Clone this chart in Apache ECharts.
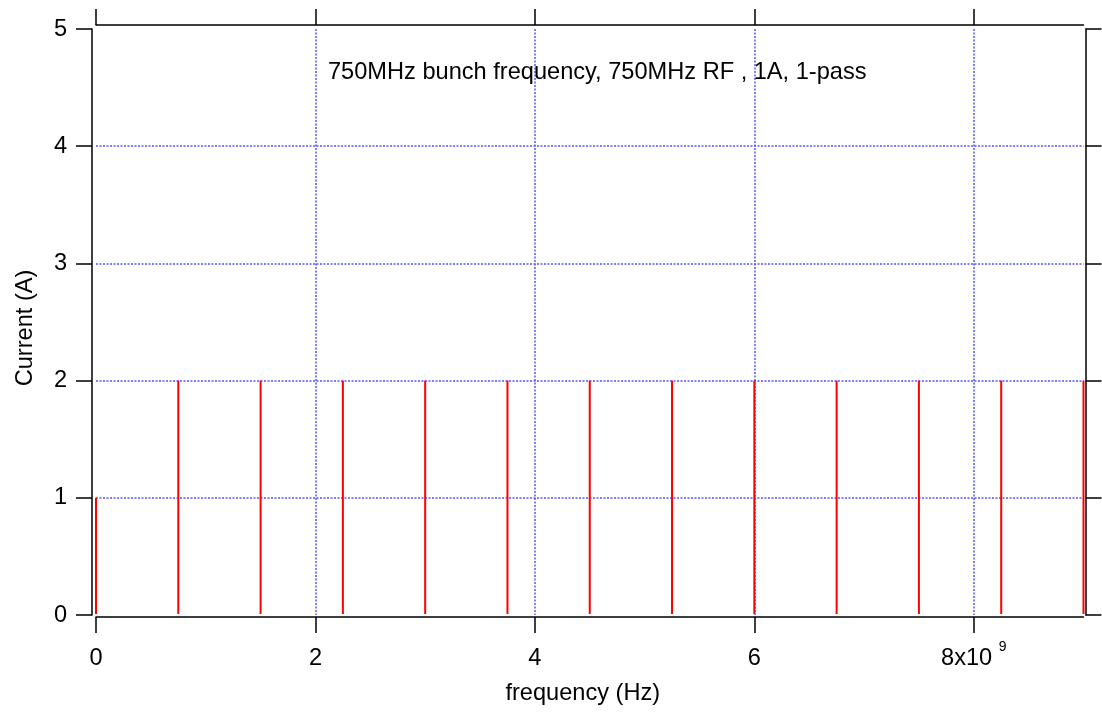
<!DOCTYPE html>
<html>
<head>
<meta charset="utf-8">
<script src="https://cdn.jsdelivr.net/npm/echarts@6/dist/echarts.min.js"></script>
<style>
  html, body { margin: 0; padding: 0; background: #ffffff; }
  #chart { width: 1102px; height: 715px; }
</style>
</head>
<body>
<div id="chart"></div>
<script>
// ---- data ----
const frequencies = [0, 0.75e9, 1.5e9, 2.25e9, 3.0e9, 3.75e9, 4.5e9, 5.25e9, 6.0e9, 6.75e9, 7.5e9, 8.25e9, 9.0e9];
const currents    = [1, 2, 2, 2, 2, 2, 2, 2, 2, 2, 2, 2, 2];
const xTickValues = [0, 2e9, 4e9, 6e9, 8e9];
const xTickLabels = ['0', '2', '4', '6', '8x10'];
const xExponent   = '9';
const yTickValues = [0, 1, 2, 3, 4, 5];
const yTickLabels = ['0', '1', '2', '3', '4', '5'];
const titleText   = '750MHz bunch frequency, 750MHz RF , 1A, 1-pass';
const xName = 'frequency (Hz)';
const yName = 'Current (A)';

const FONT = '"Liberation Sans", Arial, Helvetica, sans-serif';
const FS = 23.6;
const gridColor = '#5555ff';

const chart = echarts.init(document.getElementById('chart'), null, { renderer: 'canvas' });

const axisLineStyle = { color: '#000', width: 1.5 };
const tickStyle = { color: '#000', width: 1.5 };
const gridLineStyle = { color: gridColor, width: 1.5, type: [2, 1.5] };

function xLabel(v) {
  const i = xTickValues.indexOf(v);
  if (i < 0) return '';
  if (i === xTickValues.length - 1) return '{a|' + xTickLabels[i] + ' }{sup|' + xExponent + '}';
  return '{a|' + xTickLabels[i] + '}';
}
function yLabel(v) {
  const i = yTickValues.indexOf(v);
  return i < 0 ? '' : yTickLabels[i];
}

const option = {
  backgroundColor: '#ffffff',
  animation: false,
  title: {
    text: titleText,
    left: 328,
    top: 60,
    padding: 0,
    textStyle: { fontFamily: FONT, fontSize: FS, fontWeight: 'normal', color: '#000' }
  },
  grid: { left: 96, right: 18.5, top: 29, bottom: 100, containLabel: false },
  xAxis: [
    {
      type: 'value', position: 'bottom', min: 0, max: 9e9, offset: 2,
      name: xName, nameLocation: 'middle', nameGap: 64,
      nameTextStyle: { fontFamily: FONT, fontSize: FS, color: '#000', padding: [0, 14, 0, 0] },
      axisLine: { show: true, onZero: false, lineStyle: axisLineStyle },
      axisTick: { show: true, inside: false, length: 16, lineStyle: tickStyle, customValues: xTickValues },
      axisLabel: {
        show: true, margin: 23, customValues: xTickValues,
        formatter: xLabel,
        rich: {
          a: { fontFamily: FONT, fontSize: FS, color: '#000', lineHeight: 36 },
          sup: { fontFamily: FONT, fontSize: 14, color: '#000', lineHeight: 14, verticalAlign: 'top' }
        }
      },
      splitLine: { show: true, showMinLine: false, lineStyle: gridLineStyle }
    },
    {
      type: 'value', position: 'top', min: 0, max: 9e9, offset: 4,
      axisLine: { show: true, onZero: false, lineStyle: axisLineStyle },
      axisTick: { show: true, inside: false, length: 16, lineStyle: tickStyle, customValues: xTickValues },
      axisLabel: { show: false },
      splitLine: { show: false }
    }
  ],
  yAxis: [
    {
      type: 'value', position: 'left', min: 0, max: 5, interval: 1, offset: 4,
      name: yName, nameLocation: 'middle', nameGap: 55,
      nameTextStyle: { fontFamily: FONT, fontSize: FS, color: '#000', padding: [0, 12, 0, 0] },
      axisLine: { show: true, onZero: false, lineStyle: axisLineStyle },
      axisTick: { show: true, inside: false, length: 16, lineStyle: tickStyle },
      axisLabel: { show: true, margin: 25, formatter: yLabel, fontFamily: FONT, fontSize: FS, color: '#000' },
      splitLine: { show: true, showMinLine: false, showMaxLine: false, lineStyle: gridLineStyle }
    },
    {
      type: 'value', position: 'right', min: 0, max: 5, interval: 1, offset: 2,
      axisLine: { show: true, onZero: false, lineStyle: axisLineStyle },
      axisTick: { show: true, inside: false, length: 16, lineStyle: tickStyle },
      axisLabel: { show: false },
      splitLine: { show: false }
    }
  ],
  series: [
    {
      type: 'custom',
      xAxisIndex: 0, yAxisIndex: 0,
      clip: false,
      data: frequencies.map((f, i) => [f, currents[i]]),
      renderItem: function (params, api) {
        const x = api.value(0), y = api.value(1);
        const p0 = api.coord([x, 0]);
        const p1 = api.coord([x, y]);
        return {
          type: 'line',
          shape: { x1: p0[0], y1: p0[1] - 1, x2: p1[0], y2: p1[1] },
          style: { stroke: '#ff0000', lineWidth: 2 }
        };
      }
    }
  ]
};
chart.setOption(option);
</script>
</body>
</html>
